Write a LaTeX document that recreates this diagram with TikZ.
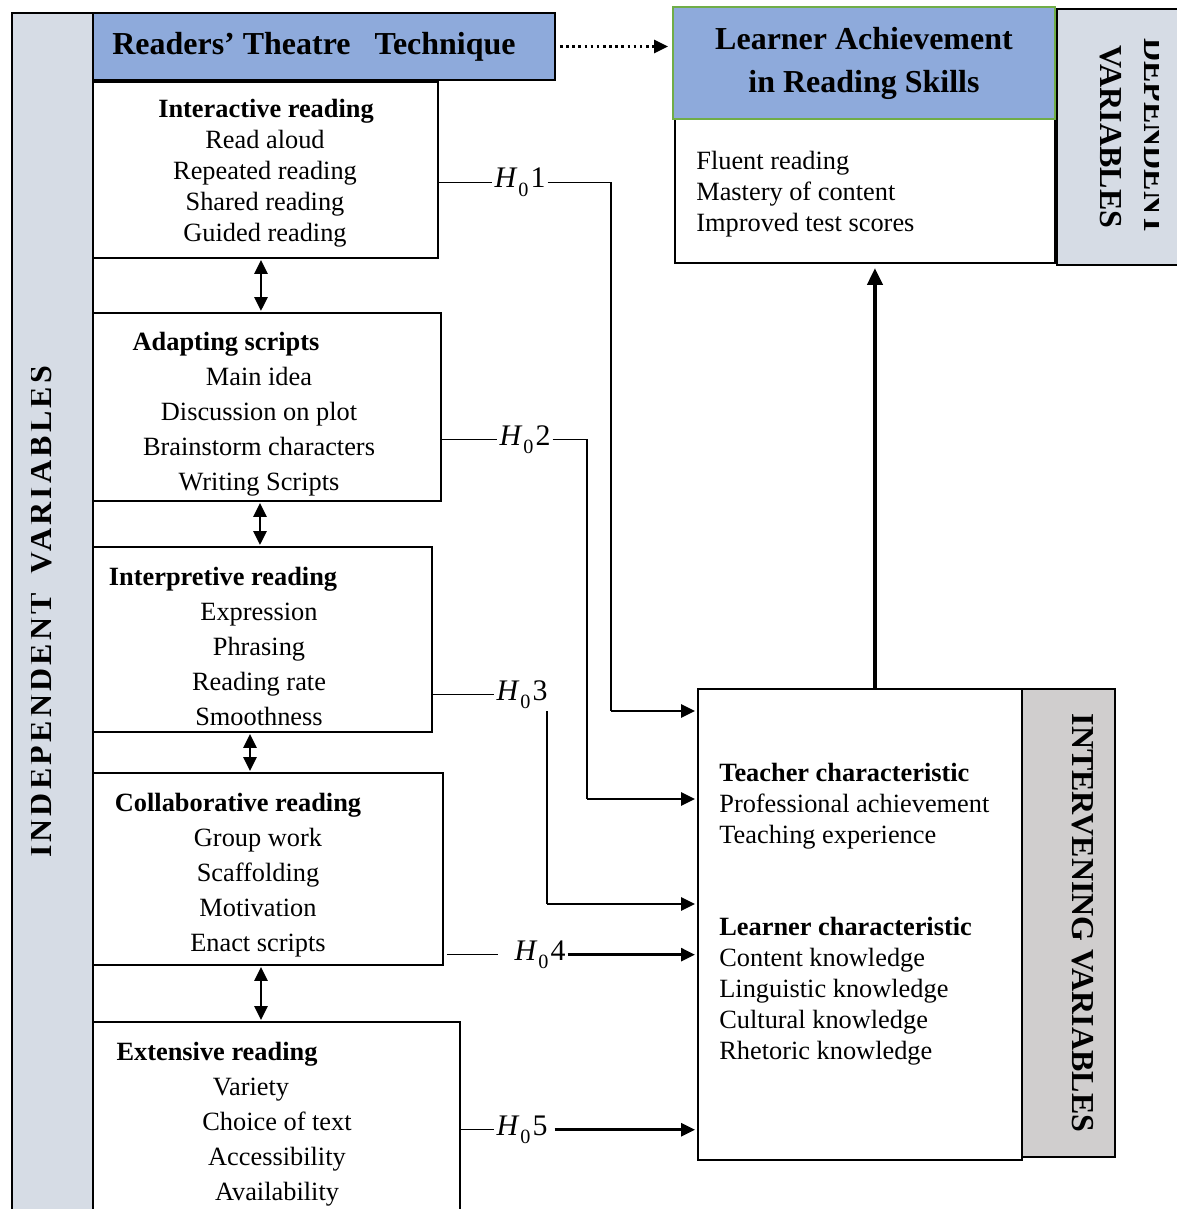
\documentclass[tikz,border=0pt]{standalone}
\usepackage{fontspec}
\setmainfont{Liberation Serif}
\usetikzlibrary{arrows.meta, calc}

\definecolor{headblue}{HTML}{8EAADB}
\definecolor{barblue}{HTML}{D6DCE5}
\definecolor{bargray}{HTML}{D0CECE}
\definecolor{edgegreen}{HTML}{70AD47}

\newcommand{\hnull}[1]{\textit{H}\kern0.5pt\raisebox{-5pt}{\fontsize{11.5}{12}\selectfont 0}\kern1.2pt#1}

\tikzset{
  panel/.style={draw, line width=1.1pt, fill=white, anchor=north west, inner sep=0pt, outer sep=0pt},
  head/.style={panel, fill=headblue, font=\fontsize{18.2}{24.5}\selectfont\bfseries},
  side/.style={panel, fill=barblue},
  barlbl/.style={font=\fontsize{18.2}{25}\selectfont\bfseries, inner sep=0pt},
  item/.style={anchor=base, font=\fontsize{15}{18}\selectfont, inner sep=0pt},
  ttl/.style={item, font=\fontsize{15}{18}\selectfont\bfseries},
  hyp/.style={anchor=base, font=\fontsize{17}{20}\selectfont, inner sep=1pt},
  link/.style={line width=0.6pt},
  arr/.style={line width=1.6pt, shorten >=0.06cm, -{Triangle[length=0.28cm,width=0.26cm]}},
  dbl/.style={line width=1.6pt, shorten <=0.04cm, shorten >=0.04cm,
    {Triangle[length=0.28cm,width=0.26cm]}-{Triangle[length=0.28cm,width=0.26cm]}},
  bigarr/.style={line width=2.6pt, shorten >=0.1cm, -{Triangle[length=0.34cm,width=0.3cm]}},
  dotarr/.style={line width=1.5pt, dotted, shorten <=0.1cm, shorten >=0.1cm, -{Triangle[length=0.28cm,width=0.26cm]}}
}

\begin{document}
\begin{tikzpicture}[x=0.02cm, y=-0.02cm]
\useasboundingbox (0,0) rectangle (1176,1209);

% independent variables
\node[side, minimum width=1.62cm, minimum height=24.4cm] (indep) at (12,13) {};
\begin{scope}
  \clip (31,13) rectangle (93,1209);
  \node[barlbl, rotate=90] (indeplbl) at (41,612) {\addfontfeature{LetterSpace=10}INDEPENDENT\hspace{0.6em}VARIABLES};
\end{scope}
\node[head, minimum width=9.24cm, minimum height=1.34cm] (rtt) at (93,13) {Readers’ Theatre\hspace{0.75em}Technique\kern0.4cm\relax};

\node[panel, minimum width=6.9cm, minimum height=3.52cm] (b1) at (93,82) {};
\node[ttl] (b1t) at (266,118) {Interactive reading};
\foreach \txt [count=\i] in {Read aloud, Repeated reading, Shared reading, Guided reading}
  \node[item] (b1i\i) at (265,118+31*\i) {\txt};

\node[panel, minimum width=6.96cm, minimum height=3.76cm] (b2) at (93,313) {};
\node[ttl] (b2t) at (226,350) {Adapting scripts};
\foreach \txt [count=\i] in {Main idea, Discussion on plot, Brainstorm characters, Writing Scripts}
  \node[item] (b2i\i) at (259,350+35*\i) {\txt};

\node[panel, minimum width=6.78cm, minimum height=3.7cm] (b3) at (93,547) {};
\node[ttl] (b3t) at (223,585) {Interpretive reading};
\foreach \txt [count=\i] in {Expression, Phrasing, Reading rate, Smoothness}
  \node[item] (b3i\i) at (259,585+35*\i) {\txt};

\node[panel, minimum width=7cm, minimum height=3.84cm] (b4) at (93,773) {};
\node[ttl] (b4t) at (238,811) {Collaborative reading};
\foreach \txt [count=\i] in {Group work, Scaffolding, Motivation, Enact scripts}
  \node[item] (b4i\i) at (258,811+35*\i) {\txt};

\node[panel, minimum width=7.34cm, minimum height=4cm] (b5) at (93,1022) {};
\node[ttl] (b5t) at (217,1060) {Extensive reading};
\foreach \xx/\txt [count=\i] in {251/Variety, 277/Choice of text, 277/Accessibility, 277/Availability}
  \node[item] (b5i\i) at (\xx,1060+35*\i) {\txt};

\draw[dbl] ([xshift=-0.09cm]b1.south) -- ([xshift=-0.09cm]b1.south |- b2.north);
\draw[dbl] ([xshift=-0.14cm]b2.south) -- ([xshift=-0.14cm]b2.south |- b3.north);
\draw[dbl] ([xshift=-0.25cm]b3.south) -- ([xshift=-0.25cm]b3.south |- b4.north);
\draw[dbl] ([xshift=-0.14cm]b4.south) -- ([xshift=-0.14cm]b4.south |- b5.north);

% dependent variables
\node[panel, minimum width=7.6cm, minimum height=2.88cm] (outc) at (675,119) {};
\node[head, draw=edgegreen, align=center, minimum width=7.64cm, minimum height=2.24cm] (ach) at (673,7) {Learner Achievement\\in Reading Skills};
\foreach \txt [count=\i] in {Fluent reading, Mastery of content, Improved test scores}
  \node[item, anchor=base west] (oc\i) at (696,139+31*\i) {\txt};
\node[side, minimum width=2.5cm, minimum height=5.12cm] (depbar) at (1057,9) {};
\begin{scope}
  \clip (1057,9) rectangle (1158,265);
  \node[barlbl, rotate=-90, align=center] (deplbl) at (1133,137) {DEPENDENT\\VARIABLES};
\end{scope}

\draw[dotarr] (rtt.east) -- (rtt.east -| ach.west);

% intervening variables
\node[panel, minimum width=6.48cm, minimum height=9.42cm] (inter) at (698,689) {};
\node[side, fill=bargray, minimum width=1.86cm, minimum height=9.36cm] (interbar) at (1022,689) {};
\node[barlbl, rotate=-90] (interlbl) at (1083,923) {INTERVENING VARIABLES};
\node[ttl, anchor=base west] (tch) at (719,781) {Teacher characteristic};
\foreach \txt [count=\i] in {Professional achievement, Teaching experience}
  \node[item, anchor=base west] (tch\i) at (719,781+31*\i) {\txt};
\node[ttl, anchor=base west] (lrn) at (719,935) {Learner characteristic};
\foreach \txt [count=\i] in {Content knowledge, Linguistic knowledge, Cultural knowledge, Rhetoric knowledge}
  \node[item, anchor=base west] (lrn\i) at (719,935+31*\i) {\txt};

\draw[bigarr] ([xshift=0.3cm]inter.north) -- ([xshift=0.3cm]inter.north |- outc.south);

% hypotheses
\node[hyp] (h1) at (520,188) {\hnull{1}};
\node[hyp] (h2) at (525,445) {\hnull{2}};
\node[hyp] (h3) at (522,700) {\hnull{3}};
\node[hyp] (h4) at (540,960) {\hnull{4}};
\node[hyp] (h5) at (522,1135) {\hnull{5}};

\coordinate (k1) at (611,711);
\coordinate (k2) at (587,799);
\coordinate (k3) at (547,904);

\draw[link] (b1.east |- h1.west) -- (h1.west);
\draw[link] (h1.east) -| (k1);
\draw[arr] (k1) -- (inter.west |- k1);

\draw[link] (b2.east |- h2.west) -- (h2.west);
\draw[link] (h2.east) -| (k2);
\draw[arr] (k2) -- (inter.west |- k2);

\draw[link] (b3.east |- h3.west) -- (h3.west);
\draw[link] (h3.south -| k3) -- (k3);
\draw[arr] (k3) -- (inter.west |- k3);

\draw[link, shorten <=0.08cm, shorten >=0.28cm] (b4.east |- h4.west) -- (h4.west);
\draw[arr] (h4.east) -- (inter.west |- h4.east);

\draw[link] (b5.east |- h5.west) -- (h5.west);
\draw[arr, shorten <=0.1cm] (h5.east) -- (inter.west |- h5.east);

\end{tikzpicture}
\end{document}
